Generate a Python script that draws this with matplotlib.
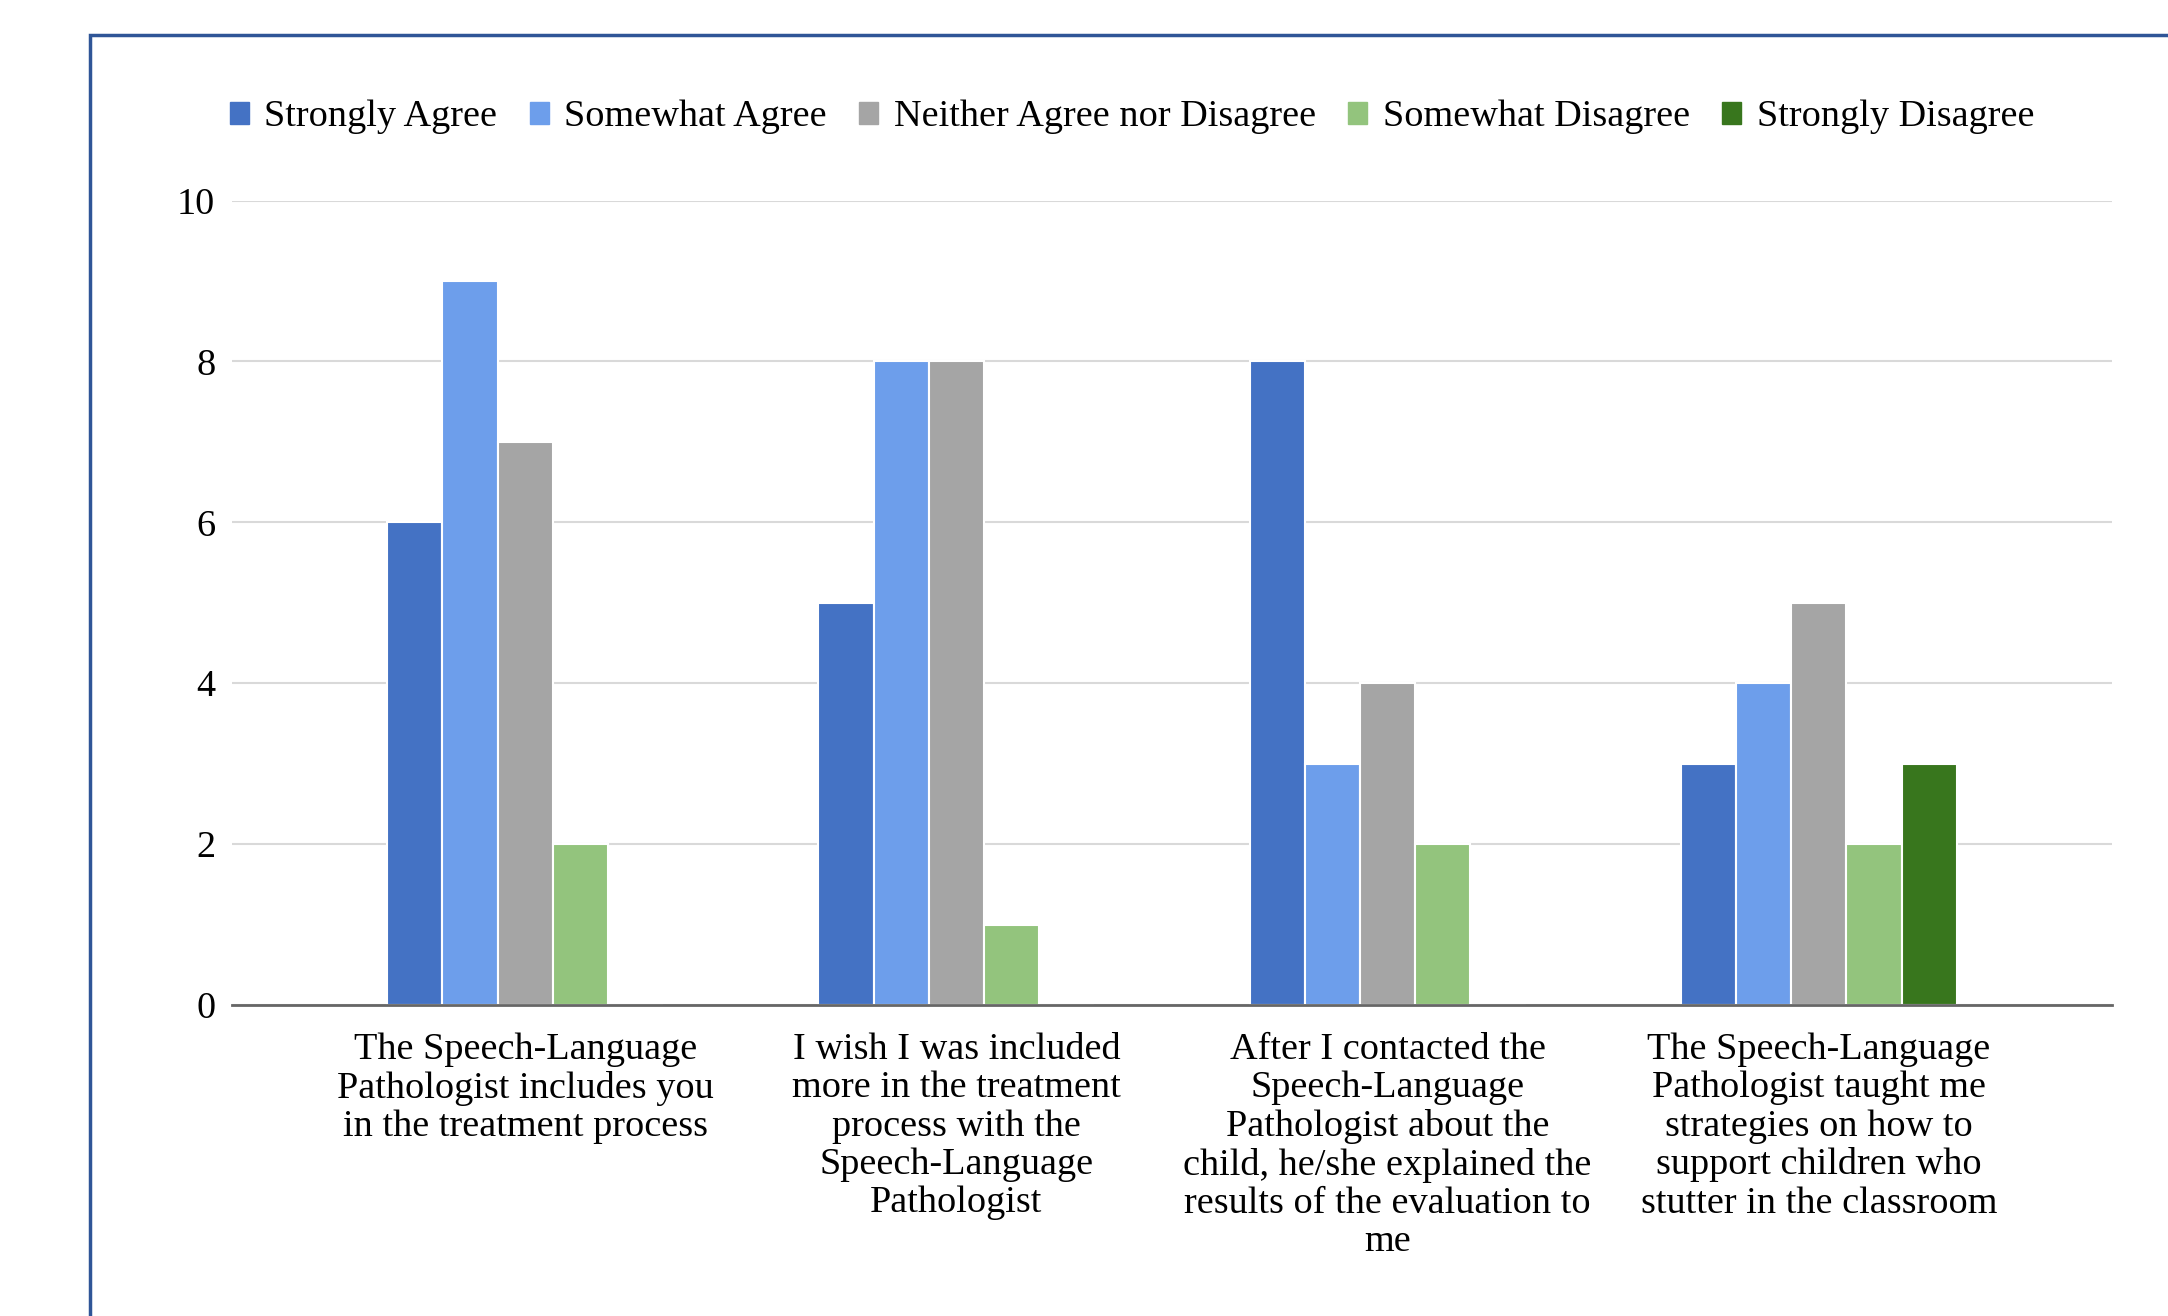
import matplotlib
matplotlib.use("Agg")
import matplotlib.pyplot as plt
import numpy as np
from matplotlib.patches import Rectangle, Patch

plt.rcParams['font.family'] = ['Liberation Serif', 'DejaVu Serif']

categories = [
    "The Speech-Language\nPathologist includes you\nin the treatment process",
    "I wish I was included\nmore in the treatment\nprocess with the\nSpeech-Language\nPathologist",
    "After I contacted the\nSpeech-Language\nPathologist about the\nchild, he/she explained the\nresults of the evaluation to\nme",
    "The Speech-Language\nPathologist taught me\nstrategies on how to\nsupport children who\nstutter in the classroom",
]
series_names = ["Strongly Agree", "Somewhat Agree", "Neither Agree nor Disagree",
                "Somewhat Disagree", "Strongly Disagree"]
strongly_agree = [6, 5, 8, 3]
somewhat_agree = [9, 8, 3, 4]
neither = [7, 8, 4, 5]
somewhat_disagree = [2, 1, 2, 2]
strongly_disagree = [0, 0, 0, 3]
series_values = [strongly_agree, somewhat_agree, neither, somewhat_disagree, strongly_disagree]
colors = ["#4472C4", "#6D9EEB", "#A5A5A5", "#93C47D", "#38761D"]
yticks = [0, 2, 4, 6, 8, 10]

FS = 27.5

W, H = 2168, 1316
fig = plt.figure(figsize=(W / 100, H / 100), dpi=100)
ax = fig.add_axes([232 / W, 1 - 1005 / H, (2112 - 232) / W, (1005 - 200.5) / H])

x = np.arange(len(categories))
bw = 0.128
for i, (vals, c) in enumerate(zip(series_values, colors)):
    off = (i - 2) * bw
    ax.bar(x + off, vals, width=bw, color=c, edgecolor="white", linewidth=1.5, zorder=3)

ax.set_xlim(-0.68, 3.68)
ax.set_ylim(0, 10)
ax.set_yticks(yticks)
ax.set_yticklabels([str(v) for v in yticks], fontsize=FS)
ax.set_xticks(x)
ax.set_xticklabels(categories, fontsize=FS, linespacing=1.14, va="top")
ax.tick_params(axis="both", length=0)
ax.tick_params(axis="y", pad=12)
ax.tick_params(axis="x", pad=20)
ax.grid(axis="y", color="#D9D9D9", linewidth=1.5, zorder=0)
for s in ["top", "right", "left"]:
    ax.spines[s].set_visible(False)
ax.spines["bottom"].set_color("#666666")
ax.spines["bottom"].set_linewidth(2)
ax.spines["bottom"].set_zorder(4)

handles = [Patch(facecolor=c, edgecolor=c) for c in colors]
fig.legend(handles, series_names, loc="center", bbox_to_anchor=(1132 / W, 1 - 117 / H),
           ncol=5, frameon=False, fontsize=FS, handlelength=0.5, handleheight=0.5,
           handletextpad=0.4, columnspacing=0.85)

fig.patches.append(Rectangle((90 / W, -0.1), 1.2, 1 - 35 / H + 0.1, transform=fig.transFigure,
                             fill=False, edgecolor="#2F5597", linewidth=2.5))

fig.savefig("out.png", dpi=100)
